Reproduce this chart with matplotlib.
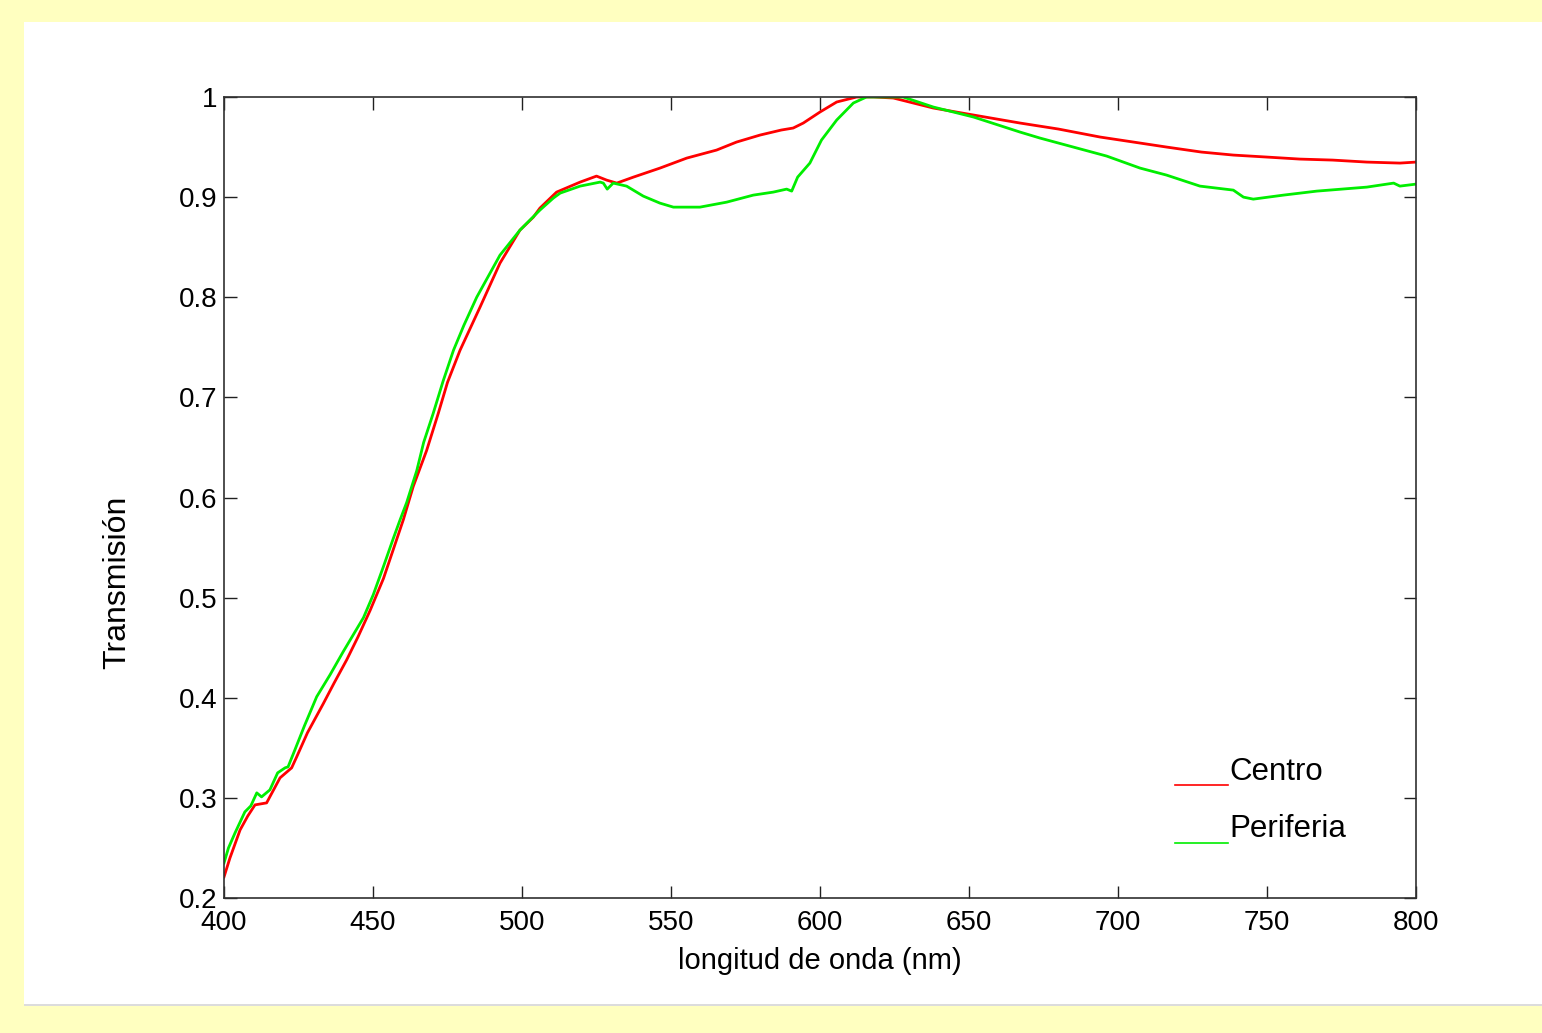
import matplotlib
matplotlib.use("Agg")
import matplotlib.pyplot as plt
from matplotlib.patches import Rectangle
from matplotlib.lines import Line2D

plt.rcParams['font.family'] = ['Liberation Sans', 'DejaVu Sans']

# Transmission spectra
wl_centro = [400, 402, 405.4, 408, 410.4, 414.3, 418.8, 422.7, 424.4, 428, 433.3, 437,
             441.2, 445, 449, 453.5, 456.8, 460.2, 463.5, 468, 471.9, 475, 479.2, 485.9,
             492.6, 499.3, 503.8, 506, 511.6, 519.5, 525, 528.4, 531.8, 537.4, 546.3,
             555.3, 565.3, 572, 579.9, 587, 591, 594.4, 600, 605.6, 612.3, 618, 624.6,
             638, 651.5, 667.1, 680, 694, 707.4, 716.3, 728, 738.7, 750, 761, 772, 783.5,
             794.6, 800]
t_centro = [0.221, 0.240, 0.268, 0.282, 0.293, 0.295, 0.320, 0.330, 0.341, 0.365, 0.394,
            0.415, 0.438, 0.461, 0.487, 0.519, 0.548, 0.578, 0.611, 0.647, 0.684, 0.715,
            0.747, 0.790, 0.834, 0.867, 0.880, 0.889, 0.905, 0.915, 0.921, 0.917, 0.914,
            0.920, 0.929, 0.939, 0.947, 0.955, 0.962, 0.967, 0.969, 0.974, 0.985, 0.995,
            1.000, 1.000, 0.999, 0.989, 0.982, 0.974, 0.968, 0.960, 0.954, 0.950, 0.945,
            0.942, 0.940, 0.938, 0.937, 0.935, 0.934, 0.935]

wl_periferia = [400, 401.5, 403.7, 407, 409, 411, 412.6, 415.4, 418, 420.5, 421.5, 423.8,
                427, 431.1, 435.6, 440, 446.8, 450.1, 453.5, 456.8, 459, 461.3, 464.7, 467,
                470.2, 473.5, 477, 480.5, 484.8, 492.6, 499.3, 506, 510.5, 512.8, 519.5,
                526.2, 527.3, 528.6, 530.6, 535.1, 540.7, 546.3, 550.8, 559.7, 568.7,
                577.6, 584.3, 588.8, 590.5, 592.5, 596.6, 600.5, 605.6, 611.2, 615.6,
                627.9, 638, 651.5, 667.1, 673.8, 685, 696.2, 707.4, 716.3, 727.5, 738.7,
                742.1, 745.4, 755.5, 766.7, 783.5, 792.5, 794.6, 800]
t_periferia = [0.235, 0.250, 0.265, 0.286, 0.292, 0.305, 0.301, 0.308, 0.325, 0.330, 0.331,
               0.348, 0.372, 0.401, 0.423, 0.446, 0.480, 0.503, 0.531, 0.559, 0.577, 0.595,
               0.627, 0.655, 0.684, 0.716, 0.747, 0.772, 0.800, 0.842, 0.867, 0.887, 0.899,
               0.904, 0.911, 0.915, 0.914, 0.908, 0.914, 0.911, 0.901, 0.894, 0.890, 0.890,
               0.895, 0.902, 0.905, 0.908, 0.906, 0.920, 0.934, 0.957, 0.977, 0.994, 1.000,
               1.000, 0.990, 0.980, 0.965, 0.959, 0.950, 0.941, 0.929, 0.922, 0.911, 0.907,
               0.900, 0.898, 0.902, 0.906, 0.910, 0.914, 0.911, 0.913]

x_ticks = [400, 450, 500, 550, 600, 650, 700, 750, 800]
y_ticks = [0.2, 0.3, 0.4, 0.5, 0.6, 0.7, 0.8, 0.9, 1.0]
y_tick_labels = ["0.2", "0.3", "0.4", "0.5", "0.6", "0.7", "0.8", "0.9", "1"]
series_names = ["Centro", "Periferia"]
red = "#ff0000"
green = "#00ee00"

fig = plt.figure(figsize=(15.42, 10.33), dpi=100, facecolor="#ffffc0")

# white panel and its grey bottom edge (behind the axes)
fig.patches.append(Rectangle((24 / 1542, 29 / 1033), 1 - 24 / 1542, 982 / 1033,
                             transform=fig.transFigure, facecolor="white",
                             edgecolor="none", zorder=-2))
fig.patches.append(Rectangle((24 / 1542, 27 / 1033), 1 - 24 / 1542, 2 / 1033,
                             transform=fig.transFigure, facecolor="#dcdcdc",
                             edgecolor="none", zorder=-2))

ax = fig.add_axes([224 / 1542, 135 / 1033, 1192 / 1542, 801 / 1033])
ax.set_facecolor("white")

ax.plot(wl_centro, t_centro, color=red, linewidth=2)
ax.plot(wl_periferia, t_periferia, color=green, linewidth=2)

ax.set_xlim(400, 800)
ax.set_ylim(0.2, 1.0)
ax.set_xticks(x_ticks)
ax.set_xticklabels([str(v) for v in x_ticks])
ax.set_yticks(y_ticks)
ax.set_yticklabels(y_tick_labels)
ax.tick_params(direction="in", length=9, width=1, colors="#202020", labelcolor="black",
               labelsize=20, top=True, right=True)
ax.tick_params(axis="x", pad=9)
ax.tick_params(axis="y", pad=5)
for s in ax.spines.values():
    s.set_color("#303030")
    s.set_linewidth(1.2)

ax.set_xlabel("longitud de onda (nm)", fontsize=21)
ax.xaxis.set_label_coords(0.5, -0.061)
ax.set_ylabel("Transmisión", fontsize=23)
ax.yaxis.set_label_coords(-0.077, 0.3945)

# legend: short line at text baseline, then the name
leg_rows = [(0.1411, 0.1573), (0.0687, 0.0861)]
for name, col, (yl, yt) in zip(series_names, [red, green], leg_rows):
    ax.add_line(Line2D([0.7978, 0.8423], [yl, yl], transform=ax.transAxes,
                       color=col, linewidth=1.2))
    ax.text(0.8431, yt, name, transform=ax.transAxes, fontsize=22.5,
            va="center", ha="left")

fig.savefig("out.png", dpi=100, facecolor=fig.get_facecolor())
